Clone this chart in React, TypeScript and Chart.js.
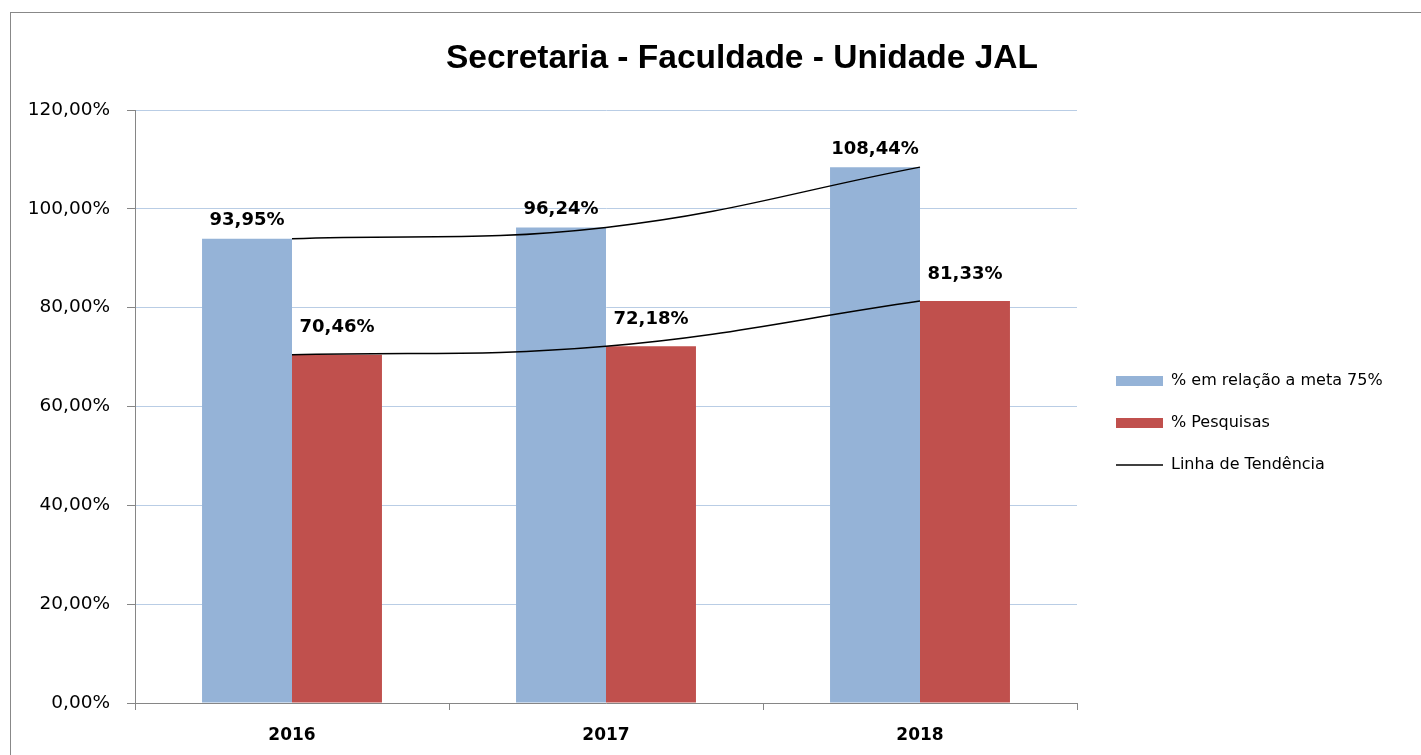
import React, { useEffect, useRef } from "react";
import { Chart, registerables } from "chart.js";

Chart.register(...registerables);

const categories = ["2016", "2017", "2018"];
const metaValues = [93.95, 96.24, 108.44];
const pesquisaValues = [70.46, 72.18, 81.33];
const seriesLabels = ["% em relação a meta 75%", "% Pesquisas", "Linha de Tendência"];
const chartTitle = "Secretaria - Faculdade - Unidade JAL";
const yMin = 0;
const yMax = 120;
const yStep = 20;

const BLUE = "#95B3D7";
const RED = "#C0504D";
const GRID = "#B9CDE5";
const AXIS = "#868686";

const W = 1462;
const H = 742;

const fmt = (v: number) => v.toFixed(2).replace(".", ",") + "%";

const labelOffsets = [18, 27];

const dataLabelPlugin = {
  id: "dataLabels",
  afterDatasetsDraw(chart: any) {
    const ctx = chart.ctx;
    ctx.save();
    ctx.font = 'bold 18px "DejaVu Sans"';
    ctx.fillStyle = "#000";
    ctx.textAlign = "center";
    ctx.textBaseline = "middle";
    [0, 1].forEach((di) => {
      const meta = chart.getDatasetMeta(di);
      const ds = chart.data.datasets[di];
      meta.data.forEach((el: any, i: number) => {
        ctx.fillText(fmt(ds.data[i]), el.x, el.y - labelOffsets[di]);
      });
    });
    ctx.restore();
  },
};

// Center the title over the whole chart frame (as Excel does), not only the area left of the legend
const titleCenterPlugin = {
  id: "titleCenter",
  afterLayout(chart: any) {
    const t = chart.titleBlock;
    if (t) {
      t.left = 0;
      t.right = chart.width;
      t.width = chart.width;
    }
  },
};

export default function App() {
  const ref = useRef<HTMLCanvasElement | null>(null);
  useEffect(() => {
    if (!ref.current) return;
    const legendFont = '16px "DejaVu Sans"';
    const mc = document.createElement("canvas").getContext("2d")!;
    mc.font = legendFont;
    const tw = Math.max(...seriesLabels.map((s) => mc.measureText(s).width));
    const legendPad = 26;
    const boxW = 47;
    const legendWidth = legendPad + boxW + 8 + tw + 10;
    const chartLeft = 124;
    const chartRight = 1066;
    const spacer = 13;
    const padRight = Math.max(0, W - chartRight - spacer - legendWidth);

    const chart = new Chart(ref.current, {
      type: "bar",
      data: {
        labels: categories,
        datasets: [
          {
            type: "bar",
            label: seriesLabels[0],
            data: metaValues,
            backgroundColor: BLUE,
            borderWidth: 0,
            xAxisID: "x",
            yAxisID: "y",
            order: 2,
          },
          {
            type: "bar",
            label: seriesLabels[1],
            data: pesquisaValues,
            backgroundColor: RED,
            borderWidth: 0,
            xAxisID: "x",
            yAxisID: "y",
            order: 2,
          },
          {
            type: "line",
            label: seriesLabels[2],
            data: metaValues,
            borderColor: "#000",
            borderWidth: 1.5,
            pointRadius: 0,
            tension: 0.4,
            fill: false,
            xAxisID: "x",
            yAxisID: "y",
            order: 0,
          },
          {
            type: "line",
            label: seriesLabels[2],
            data: pesquisaValues,
            borderColor: "#000",
            borderWidth: 1.5,
            pointRadius: 0,
            tension: 0.4,
            fill: false,
            xAxisID: "x",
            yAxisID: "y",
            order: 0,
          },
        ] as any,
      },
      options: {
        responsive: false,
        animation: false,
        devicePixelRatio: 1,
        layout: { padding: { top: 0, left: 0, bottom: 0, right: padRight } },
        datasets: { bar: { categoryPercentage: 0.573, barPercentage: 1 } },
        scales: {
          x: {
            type: "category",
            offset: true,
            grid: {
              display: true,
              drawOnChartArea: false,
              drawTicks: true,
              tickLength: 7,
              tickColor: AXIS,
              offset: true,
            },
            border: { display: true, color: AXIS, width: 1 },
            ticks: {
              color: "#000",
              padding: 15,
              font: { family: '"DejaVu Sans"', size: 17, weight: "bold" },
            },
            afterFit: (s: any) => {
              s.height = 52;
            },
          },
          y: {
            type: "linear",
            position: "left",
            min: yMin,
            max: yMax,
            ticks: {
              stepSize: yStep,
              color: "#000",
              padding: 17,
              font: { family: '"DejaVu Sans"', size: 18.5 },
              callback: (v: any) => fmt(Number(v)),
            },
            grid: {
              color: GRID,
              lineWidth: 1,
              drawTicks: true,
              tickLength: 8,
              tickColor: AXIS,
            },
            border: { display: true, color: AXIS, width: 1 },
            afterFit: (s: any) => {
              s.width = chartLeft;
            },
          },
          ySpacer: {
            type: "linear",
            position: "right",
            display: false,
            afterFit: (s: any) => {
              s.width = spacer;
            },
          },
        } as any,
        plugins: {
          title: {
            display: true,
            text: chartTitle,
            color: "#000",
            font: { family: '"Liberation Sans"', size: 33.5, weight: "bold" },
            padding: { top: 26, bottom: 30.8 },
          },
          legend: {
            display: true,
            position: "right",
            align: "center",
            fullSize: false,
            maxWidth: 600,
            title: {
              display: true,
              text: "",
              font: { size: 12, lineHeight: 1 },
              padding: { top: 21, bottom: 0 },
            },
            labels: {
              usePointStyle: true,
              pointStyleWidth: boxW,
              boxHeight: 10,
              padding: legendPad,
              color: "#000",
              font: { family: '"DejaVu Sans"', size: 16 },
              generateLabels: () => [
                {
                  text: seriesLabels[0],
                  fillStyle: BLUE,
                  strokeStyle: BLUE,
                  fontColor: "#000",
                  lineWidth: 0,
                  pointStyle: "rect",
                  hidden: false,
                  datasetIndex: 0,
                },
                {
                  text: seriesLabels[1],
                  fillStyle: RED,
                  strokeStyle: RED,
                  fontColor: "#000",
                  lineWidth: 0,
                  pointStyle: "rect",
                  hidden: false,
                  datasetIndex: 1,
                },
                {
                  text: seriesLabels[2],
                  fillStyle: "#000",
                  strokeStyle: "#000",
                  fontColor: "#000",
                  lineWidth: 1.5,
                  pointStyle: "line",
                  hidden: false,
                  datasetIndex: 2,
                },
              ],
            },
          },
          tooltip: { enabled: false },
        },
      } as any,
      plugins: [titleCenterPlugin, dataLabelPlugin],
    });
    return () => chart.destroy();
  }, []);

  return (
    <div
      style={{
        position: "fixed",
        left: 0,
        top: 0,
        width: 1421,
        height: 755,
        overflow: "hidden",
        background: "#fff",
      }}
    >
      <div
        style={{
          position: "absolute",
          left: 10,
          top: 12,
          width: W + 2,
          height: H + 30,
          border: "1px solid #888",
          boxSizing: "border-box",
          background: "#fff",
        }}
      >
        <canvas
          ref={ref}
          width={W}
          height={H}
          style={{ display: "block", width: W, height: H }}
        />
      </div>
    </div>
  );
}
